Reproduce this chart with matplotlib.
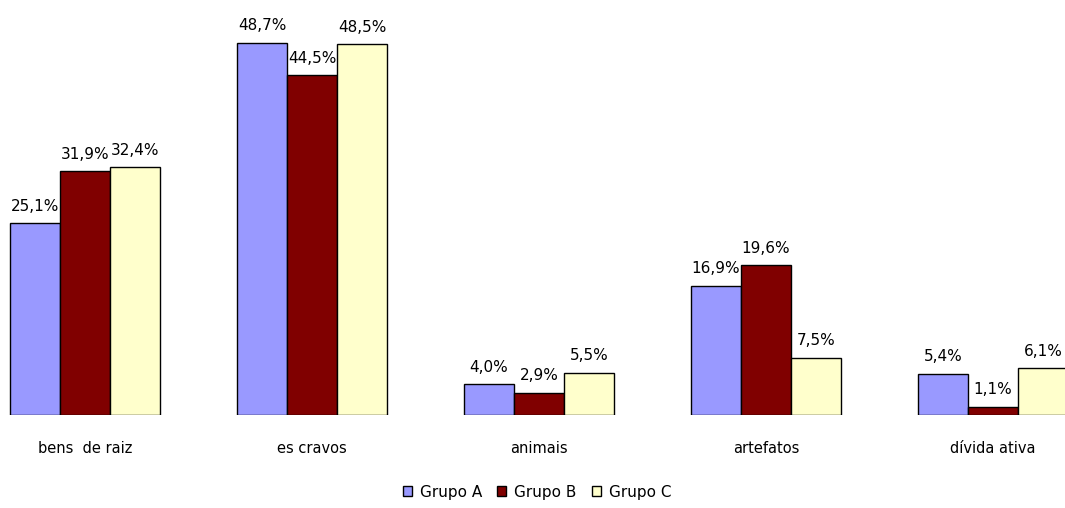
import matplotlib
matplotlib.use("Agg")
import matplotlib.pyplot as plt
from matplotlib.patches import Patch
import numpy as np

categories = ["bens  de raiz", "es cravos", "animais", "artefatos", "dívida ativa"]
series_names = ["Grupo A", "Grupo B", "Grupo C"]
grupo_a = [25.1, 48.7, 4.0, 16.9, 5.4]
grupo_b = [31.9, 44.5, 2.9, 19.6, 1.1]
grupo_c = [32.4, 48.5, 5.5, 7.5, 6.1]
colors = ["#9999FF", "#800000", "#FFFFCC"]

plt.rcParams['font.family'] = ['DejaVu Sans']

W, H = 1065, 508
fig = plt.figure(figsize=(W / 100, H / 100), dpi=100)
base_px = 415
ax = fig.add_axes([0, (H - base_px) / H, 1, base_px / H])

spacing = 227.0
c0 = 85.0
ax.set_xlim((0 - c0) / spacing, (W - c0) / spacing)
ax.set_ylim(0, base_px / 7.64)

x = np.arange(len(categories))
bw = 50 / spacing
for i, (vals, col) in enumerate(zip([grupo_a, grupo_b, grupo_c], colors)):
    xs = x + (i - 1) * bw
    ax.bar(xs, vals, width=bw, color=col, edgecolor="black", linewidth=1.0)
    for xi, v in zip(xs, vals):
        ax.annotate(f"{v:.1f}".replace(".", ",") + "%", (xi, v),
                    xytext=(0, 9), textcoords="offset points",
                    ha="center", va="baseline", fontsize=11, color="black")

for s in ax.spines.values():
    s.set_visible(False)
ax.set_yticks([])
ax.set_xticks(x)
ax.set_xticklabels(categories, fontsize=10.5)
ax.tick_params(axis="x", length=0, pad=19)

handles = [Patch(facecolor=c, edgecolor="black", linewidth=1.0) for c in colors]
fig.legend(handles, series_names, loc="center", bbox_to_anchor=(537 / W, 1 - 492 / H),
           ncol=3, frameon=False, fontsize=11, handlelength=0.6, handleheight=0.6,
           handletextpad=0.5, columnspacing=1.0)

fig.savefig("out.png", dpi=100)
